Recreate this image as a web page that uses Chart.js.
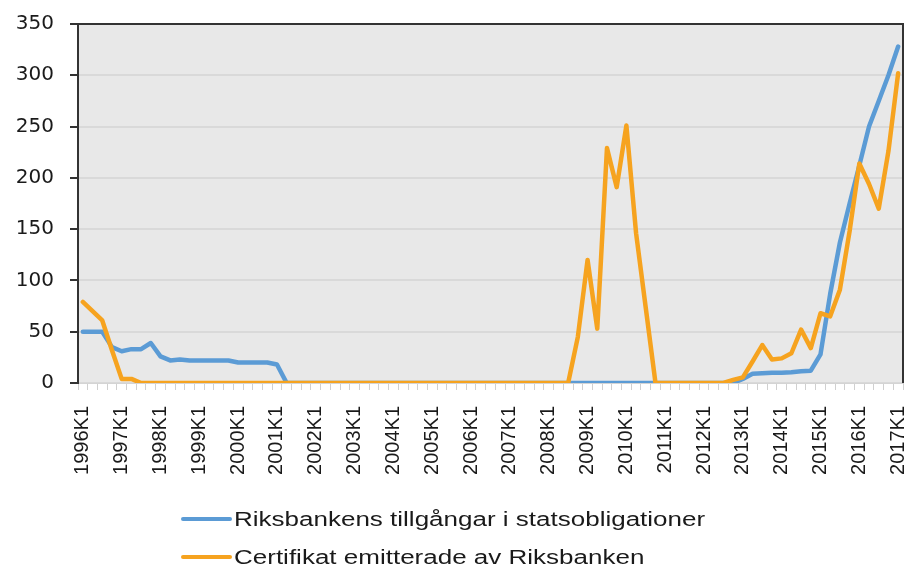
<!DOCTYPE html>
<html>
<head>
<meta charset="utf-8">
<script src="https://cdn.jsdelivr.net/npm/chart.js@4.4.1/dist/chart.umd.min.js"></script>
<style>
  html, body { margin: 0; padding: 0; background: #fff; }
  .wrap { position: relative; width: 915px; height: 572px; }
  #chart { position: absolute; left: 0; top: 0; }
  .legend { position: absolute; left: 181px; top: 500px; font-family: "Liberation Sans", Arial, sans-serif; font-size: 20px; color: #1a1a1a; }
  .legend .item { display: flex; align-items: center; height: 38px; white-space: nowrap; }
  .legend .swatch { width: 51px; height: 4px; border-radius: 2px; margin-right: 2px; }
  .legend .txt { display: inline-block; transform: scaleX(1.3); transform-origin: left center; }
</style>
</head>
<body>
<div class="wrap">
  <canvas id="chart" width="915" height="572"></canvas>
  <div class="legend" id="legend"></div>
</div>
<script>
// quarters 1996K1 .. 2017K1
const years = [1996, 1997, 1998, 1999, 2000, 2001, 2002, 2003, 2004, 2005, 2006,
  2007, 2008, 2009, 2010, 2011, 2012, 2013, 2014, 2015, 2016, 2017];
const quarters = ["K1", "K2", "K3", "K4"];
const labels = [];
years.forEach(function (y) {
  quarters.forEach(function (q) {
    if (y < 2017 || q === "K1") labels.push(y + q);
  });
});

// Riksbankens tillgångar i statsobligationer
const bonds = [
  50, 50, 50, 35,      // 1996
  31, 33, 33, 39,      // 1997
  26, 22, 23, 22,      // 1998
  22, 22, 22, 22,      // 1999
  20, 20, 20, 20,      // 2000
  18, 0, 0, 0,         // 2001
  0, 0, 0, 0,          // 2002
  0, 0, 0, 0,          // 2003
  0, 0, 0, 0,          // 2004
  0, 0, 0, 0,          // 2005
  0, 0, 0, 0,          // 2006
  0, 0, 0, 0,          // 2007
  0, 0, 0, 0,          // 2008
  0, 0, 0, 0,          // 2009
  0, 0, 0, 0,          // 2010
  0, 0, 0, 0,          // 2011
  0, 0, 0, 0,          // 2012
  4, 9, 9.5, 10,       // 2013
  10, 10.5, 11.5, 12,  // 2014
  28, 87, 137, 175,    // 2015
  212, 250, 275, 300,  // 2016
  328                  // 2017
];

// Certifikat emitterade av Riksbanken
const certificates = [
  79, 70, 61, 32,      // 1996
  4, 4, 0, 0,          // 1997
  0, 0, 0, 0,          // 1998
  0, 0, 0, 0,          // 1999
  0, 0, 0, 0,          // 2000
  0, 0, 0, 0,          // 2001
  0, 0, 0, 0,          // 2002
  0, 0, 0, 0,          // 2003
  0, 0, 0, 0,          // 2004
  0, 0, 0, 0,          // 2005
  0, 0, 0, 0,          // 2006
  0, 0, 0, 0,          // 2007
  0, 0, 0, 45,         // 2008
  120, 53, 229, 191,   // 2009
  251, 146, 73, 0,     // 2010
  0, 0, 0, 0,          // 2011
  0, 0, 0, 3,          // 2012
  5.5, 21, 37, 23,     // 2013
  24, 29, 52, 34,      // 2014
  68, 65, 91, 148,     // 2015
  214, 194, 170, 226,  // 2016
  302                  // 2017
];

const yTicks = [0, 50, 100, 150, 200, 250, 300, 350];

const seriesNames = ["Riksbankens tillgångar i statsobligationer", "Certifikat emitterade av Riksbanken"];
const seriesColors = ["#5b9bd5", "#f6a31f"];

// plot background + dark top/right frame
const plotFrame = {
  id: "plotFrame",
  beforeDraw: function (chart) {
    const a = chart.chartArea, c = chart.ctx;
    c.save();
    c.fillStyle = "#e8e8e8";
    c.fillRect(a.left, a.top, a.right - a.left, a.bottom - a.top);
    c.restore();
  },
  afterDraw: function (chart) {
    const a = chart.chartArea, c = chart.ctx;
    c.save();
    c.strokeStyle = "#333";
    c.lineWidth = 2;
    c.beginPath();
    c.moveTo(a.left, a.top);
    c.lineTo(a.right, a.top);
    c.lineTo(a.right, a.bottom);
    c.stroke();
    c.restore();
  }
};

const ctx = document.getElementById("chart").getContext("2d");

new Chart(ctx, {
  type: "line",
  data: {
    labels: labels,
    datasets: [
      {
        label: seriesNames[0],
        data: bonds,
        borderColor: seriesColors[0],
        backgroundColor: seriesColors[0],
        borderWidth: 4.5,
        pointRadius: 0,
        tension: 0,
        borderJoinStyle: "round",
        borderCapStyle: "round",
        order: 2,
      },
      {
        label: seriesNames[1],
        data: certificates,
        borderColor: seriesColors[1],
        backgroundColor: seriesColors[1],
        borderWidth: 4.5,
        pointRadius: 0,
        tension: 0,
        borderJoinStyle: "round",
        borderCapStyle: "round",
        order: 1,
      },
    ],
  },
  options: {
    responsive: false,
    animation: false,
    layout: {
      padding: { top: 24, right: 12, bottom: 89, left: 0 },
    },
    plugins: {
      legend: { display: false },
      tooltip: { enabled: false },
    },
    scales: {
      x: {
        offset: true,
        afterFit: function (s) {
          s.height = 100;
          s.paddingLeft = 0;
          s.paddingRight = 0;
        },
        border: { display: true, color: "#d4d4d4", width: 1 },
        grid: {
          offset: true,
          drawOnChartArea: false,
          drawTicks: true,
          tickLength: 7,
          tickColor: "#d0d0d0",
          tickWidth: 1,
        },
        ticks: {
          autoSkip: false,
          minRotation: 90,
          maxRotation: 90,
          padding: 16,
          color: "#1a1a1a",
          font: { family: "'Liberation Sans', Arial, sans-serif", size: 20 },
          callback: function (v, i) {
            const l = labels[i];
            return l.endsWith("K1") ? l : "";
          },
        },
      },
      y: {
        min: 0,
        max: 350,
        afterFit: function (s) {
          s.width = 78;
          s.paddingTop = 0;
          s.paddingBottom = 0;
        },
        afterBuildTicks: function (s) {
          s.ticks = yTicks.map(function (v) { return { value: v }; });
        },
        border: { display: true, color: "#333", width: 2 },
        grid: {
          color: "#d9d9d9",
          lineWidth: 2,
          drawTicks: true,
          tickLength: 8,
          tickColor: "#333",
          tickWidth: 2,
        },
        ticks: {
          padding: 16,
          color: "#1a1a1a",
          font: { family: "'DejaVu Sans', sans-serif", size: 20 },
        },
      },
    },
  },
  plugins: [plotFrame],
});

// legend below the plot
const legendEl = document.getElementById("legend");
seriesNames.forEach(function (name, i) {
  const row = document.createElement("div");
  row.className = "item";
  const sw = document.createElement("span");
  sw.className = "swatch";
  sw.style.background = seriesColors[i];
  const tx = document.createElement("span");
  tx.className = "txt";
  tx.textContent = name;
  row.appendChild(sw);
  row.appendChild(tx);
  legendEl.appendChild(row);
});
</script>
</body>
</html>
